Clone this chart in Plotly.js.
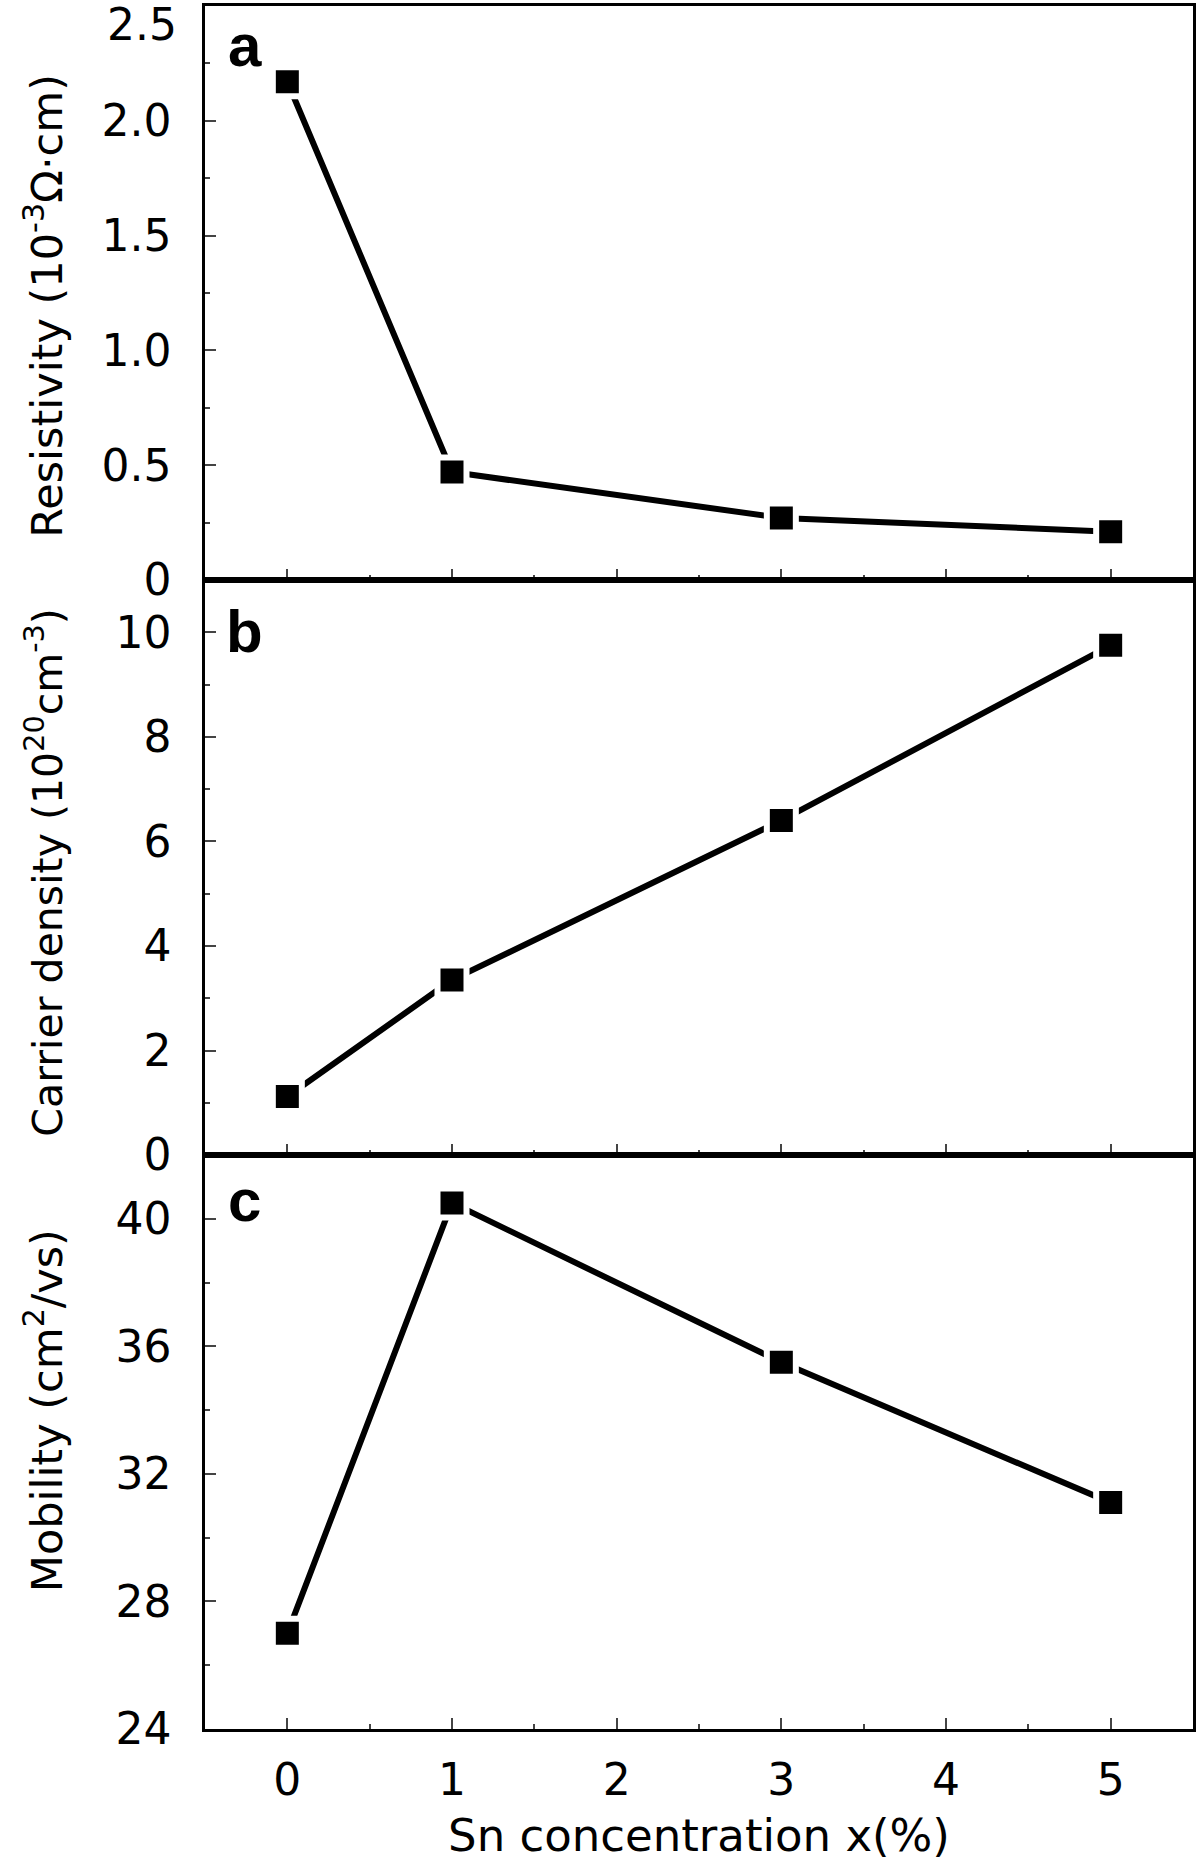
<!DOCTYPE html>
<html>
<head>
<meta charset="utf-8">
<script src="https://cdn.plot.ly/plotly-3.0.1.min.js"></script>
<style>
    html, body { margin: 0; padding: 0; background: #fff; }
    #plot { width: 1200px; height: 1867px; }
</style>
</head>
<body>
<div id="plot"></div>
<script>
// Sn doping level of each sample (x axis) and the measured values of the three panels.
const snConc = [0, 1, 3, 5];
const resistivity = [2.17, 0.47, 0.27, 0.21];
const carrierDensity = [1.12, 3.35, 6.4, 9.75];
const mobility = [27.0, 40.5, 35.5, 31.1];

// Tick labels as printed on the figure (the top "2.5" of panel a is placed separately).
const xTicks = [0, 1, 2, 3, 4, 5];
const resTicks = [0, 0.5, 1.0, 1.5, 2.0];
const resTickText = ['0', '0.5', '1.0', '1.5', '2.0'];
const resTopTick = 2.5;
const carrierTicks = [0, 2, 4, 6, 8, 10];
const mobilityTicks = [24, 28, 32, 36, 40];

document.addEventListener('DOMContentLoaded', function () {
    var font = 'DejaVu Sans, Arial, sans-serif';
    var tickSize = 44;

    // Square marker with a white rim so the line stops short of each point.
    function series(y, xa, ya) {
        return {
            x: snConc,
            y: y,
            xaxis: xa,
            yaxis: ya,
            type: 'scatter',
            mode: 'lines+markers',
            line: { color: 'black', width: 6 },
            marker: { symbol: 'square', size: 29, color: 'black', line: { color: 'white', width: 6 } },
            showlegend: false,
            hoverinfo: 'x+y'
        };
    }

    var traces = [
        series(resistivity, 'x', 'y'),
        series(carrierDensity, 'x2', 'y2'),
        series(mobility, 'x3', 'y3')
    ];

    // Shared look for every axis of the stacked panels.
    function xAxis(anchor, showLabels) {
        return {
            anchor: anchor,
            matches: anchor === 'y3' ? undefined : 'x3',
            range: [-0.5, 5.5],
            tickvals: xTicks,
            showticklabels: showLabels,
            ticks: 'inside',
            ticklen: 11,
            tickwidth: 2,
            minor: { ticks: 'inside', ticklen: 5, tickwidth: 2, dtick: 0.5, tick0: 0 },
            showline: true,
            linewidth: 2.5,
            linecolor: 'black',
            mirror: true,
            showgrid: false,
            zeroline: false,
            ticklabelstandoff: 10,
            tickfont: { family: font, size: tickSize, color: 'black' }
        };
    }

    function yAxis(domain, range, tickvals, ticktext, minorStep) {
        var axis = {
            domain: domain,
            range: range,
            tickvals: tickvals,
            ticks: 'inside',
            ticklen: 11,
            tickwidth: 2,
            minor: { ticks: 'inside', ticklen: 5, tickwidth: 2, dtick: minorStep, tick0: 0 },
            showline: true,
            linewidth: 2.5,
            linecolor: 'black',
            mirror: true,
            showgrid: false,
            zeroline: false,
            ticklabelstandoff: 22,
            tickfont: { family: font, size: tickSize, color: 'black' }
        };
        if (ticktext) axis.ticktext = ticktext;
        return axis;
    }

    var xBottom = xAxis('y3', true);
    xBottom.title = {
        text: 'Sn concentration x(%)',
        font: { family: font, size: 45, color: 'black' },
        standoff: 16
    };

    // Panel letters and the rotated y titles are placed in paper coordinates.
    function label(text, y) {
        return {
            text: '<b>' + text + '</b>', xref: 'paper', yref: 'paper',
            x: 0.040, y: y, xanchor: 'center', yanchor: 'middle',
            showarrow: false, font: { family: 'Liberation Sans, Arial, sans-serif', size: 60, color: 'black' }
        };
    }
    function yTitle(text, y, size) {
        return {
            text: text, xref: 'paper', yref: 'paper', x: -0.163, y: y,
            xanchor: 'center', yanchor: 'middle', textangle: -90,
            showarrow: false, font: { family: font, size: size, color: 'black' }
        };
    }

    const layout = {
        width: 1200,
        height: 1867,
        margin: { l: 205, r: 7, t: 6, b: 138 },
        paper_bgcolor: 'white',
        plot_bgcolor: 'white',
        font: { family: font, color: 'black' },
        xaxis: xAxis('y', false),
        xaxis2: xAxis('y2', false),
        xaxis3: xBottom,
        yaxis: yAxis([0.6669, 1], [0, 2.5], resTicks, resTickText, 0.25),
        yaxis2: yAxis([0.3331, 0.6669], [0, 11], carrierTicks, null, 1),
        yaxis3: yAxis([0, 0.3331], [24, 42], mobilityTicks, null, 2),
        annotations: [
            // top tick label of panel a, pushed just below the frame as in the figure
            {
                text: String(resTopTick.toFixed(1)), xref: 'paper', yref: 'y', x: -0.0263, y: resTopTick,
                xanchor: 'right', yanchor: 'middle', yshift: -18, showarrow: false,
                font: { family: font, size: tickSize, color: 'black' }
            },
            label('a', 0.977),
            label('b', 0.637),
            label('c', 0.307),
            yTitle('Resistivity (10<sup>-3</sup>Ω·cm)', 0.826, 43),
            yTitle('Carrier density (10<sup>20</sup>cm<sup>-3</sup>)', 0.497, 41),
            yTitle('Mobility (cm<sup>2</sup>/vs)', 0.185, 43)
        ]
    };

    var config = { responsive: false, displayModeBar: false };

    var plotElement = document.getElementById('plot');
    if (plotElement) {
        Plotly.newPlot('plot', traces, layout, config);
    } else {
        console.error("No DOM element with id 'plot' exists on the page.");
    }
});
</script>
</body>
</html>
